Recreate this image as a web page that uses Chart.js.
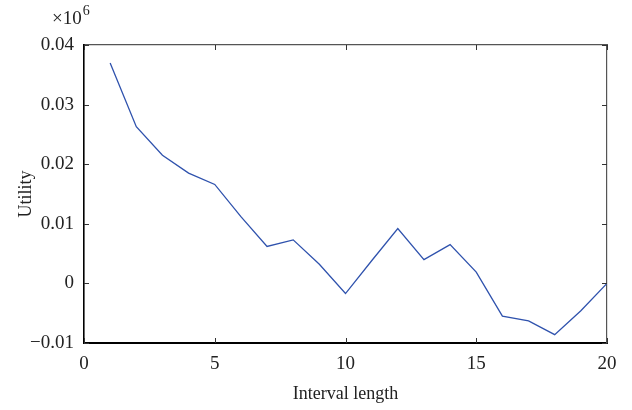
<!DOCTYPE html>
<html>
<head>
<meta charset="utf-8">
<script src="https://cdn.jsdelivr.net/npm/chart.js@4/dist/chart.umd.min.js"></script>
<style>
  html, body { margin: 0; padding: 0; background: #fff; }
  #wrap { width: 632px; height: 410px; }
</style>
</head>
<body>
<div id="wrap"><canvas id="chart" width="632" height="410"></canvas></div>
<script>
// ── Data (units ×10^6) ───────────────────────────────────────
const intervalLengths = [1, 2, 3, 4, 5, 6, 7, 8, 9, 10, 11, 12, 13, 14, 15, 16, 17, 18, 19, 20];
const utilityValues = [
  0.0370, 0.0263, 0.0215, 0.0185, 0.0166, 0.0112, 0.0062, 0.0073, 0.0032, -0.0017,
  0.0038, 0.0092, 0.0040, 0.0065, 0.0019, -0.0055, -0.0063, -0.0086, -0.0046, 0.0000,
];
const xTicks = [0, 5, 10, 15, 20];
const yTicks = [-0.01, 0, 0.01, 0.02, 0.03, 0.04];

const FONT = 'Liberation Serif, "DejaVu Serif", serif';
const TEXT = '#222';

function fmtY(v) {
  if (Math.abs(v) < 1e-9) return '0';
  const s = Math.abs(v).toFixed(2);
  return v < 0 ? '\u2212' + s : s;
}

// inward tick marks on all four sides + the ×10^6 multiplier
const boxTicks = {
  id: 'boxTicks',
  afterDraw(chart) {
    const { ctx, chartArea: a, scales } = chart;
    const len = 5;
    ctx.save();
    ctx.strokeStyle = '#333';
    ctx.lineWidth = 1;
    ctx.beginPath();
    xTicks.forEach(v => {
      const x = Math.round(scales.x.getPixelForValue(v)) + 0.5;
      ctx.moveTo(x, a.bottom); ctx.lineTo(x, a.bottom - len);
      ctx.moveTo(x, a.top);    ctx.lineTo(x, a.top + len);
    });
    yTicks.forEach(v => {
      const y = Math.round(scales.y.getPixelForValue(v)) + 0.5;
      ctx.moveTo(a.left, y);  ctx.lineTo(a.left + len, y);
      ctx.moveTo(a.right, y); ctx.lineTo(a.right - len, y);
    });
    ctx.stroke();

    // exponent label
    ctx.fillStyle = TEXT;
    ctx.textBaseline = 'alphabetic';
    ctx.textAlign = 'left';
    ctx.font = '19px ' + FONT;
    ctx.fillText('\u00d710', 52, 24);
    const w = ctx.measureText('\u00d710').width;
    ctx.font = '14px ' + FONT;
    ctx.fillText('6', 52 + w + 1, 15);
    ctx.restore();
  },
};

new Chart(document.getElementById('chart'), {
  type: 'line',
  data: {
    datasets: [{
      data: intervalLengths.map((x, i) => ({ x, y: utilityValues[i] })),
      borderColor: '#2f52ad',
      borderWidth: 1.3,
      pointRadius: 0,
      tension: 0,
      fill: false,
    }],
  },
  options: {
    responsive: false,
    animation: false,
    events: [],
    layout: { padding: 0 },
    plugins: { legend: { display: false }, tooltip: { enabled: false } },
    scales: {
      x: {
        type: 'linear', position: 'bottom', min: 0, max: 20,
        afterFit: s => { s.height = 67; },
        afterBuildTicks: s => { s.ticks = xTicks.map(value => ({ value })); },
        grid: { display: false, drawTicks: false },
        border: { display: true, color: '#000', width: 2 },
        ticks: { color: TEXT, font: { family: FONT, size: 19 }, padding: 10, maxRotation: 0 },
        title: { display: true, text: 'Interval length', color: TEXT,
                 font: { family: FONT, size: 18 }, padding: { top: 0, bottom: 5 } },
      },
      x2: {
        type: 'linear', position: 'top', min: 0, max: 20,
        afterFit: s => { s.height = 45; },
        grid: { display: false, drawTicks: false },
        border: { display: true, color: '#555', width: 1.2 },
        ticks: { display: false },
      },
      y: {
        type: 'linear', position: 'left', min: -0.01, max: 0.04,
        afterFit: s => { s.width = 84; },
        afterBuildTicks: s => { s.ticks = yTicks.map(value => ({ value })); },
        grid: { display: false, drawTicks: false },
        border: { display: true, color: '#000', width: 1.6 },
        ticks: { color: TEXT, font: { family: FONT, size: 19 }, padding: 10, callback: fmtY },
        title: { display: true, text: 'Utility', color: TEXT,
                 font: { family: FONT, size: 18 }, padding: { top: 15, bottom: 0 } },
      },
      y2: {
        type: 'linear', position: 'right', min: -0.01, max: 0.04,
        afterFit: s => { s.width = 25; },
        grid: { display: false, drawTicks: false },
        border: { display: true, color: '#555', width: 1.2 },
        ticks: { display: false },
      },
    },
  },
  plugins: [boxTicks],
});
</script>
</body>
</html>
